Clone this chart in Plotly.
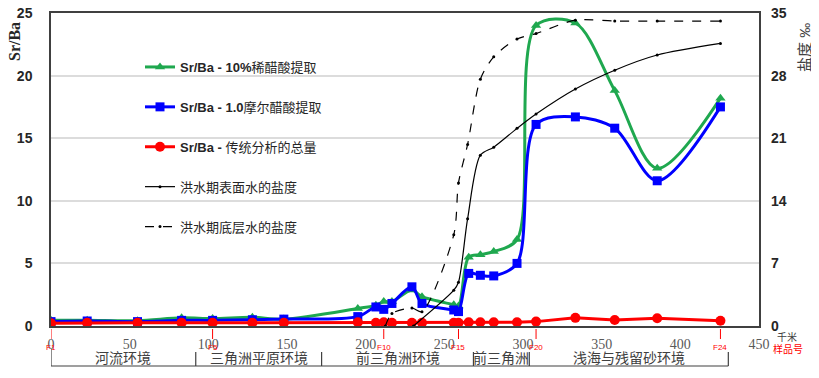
import plotly.graph_objects as go

# ---------------- data ----------------
km = [0, 23, 55, 83, 102.7, 128, 148, 195, 206.5, 211.5, 216.7, 229.4, 235.8,
      256, 259, 265.5, 272.9, 281.4, 296.2, 308.3, 333.3, 358.3, 385.3, 425.5]
srba_10pct = [0.45, 0.45, 0.42, 0.65, 0.6, 0.7, 0.55, 1.4, 1.65, 1.95, 1.95, 2.87, 2.34,
              1.7, 1.6, 5.5, 5.7, 5.95, 6.9, 24.0, 24.2, 18.8, 12.6, 18.2]
srba_1mol = [0.35, 0.4, 0.35, 0.45, 0.45, 0.5, 0.55, 0.75, 1.52, 1.33, 1.8, 3.13, 1.8,
             1.28, 1.15, 4.2, 4.05, 4.0, 5.0, 16.1, 16.7, 15.8, 11.6, 17.5]
srba_total = [0.22, 0.25, 0.25, 0.25, 0.25, 0.25, 0.25, 0.3, 0.25, 0.3, 0.25, 0.25, 0.25,
              0.25, 0.25, 0.3, 0.3, 0.3, 0.3, 0.35, 0.65, 0.48, 0.62, 0.42]

sal_surface_km = [230.4, 256, 259, 264.8, 272.9, 281.4, 296.2, 308.3, 333.3, 358.3, 385.3, 425.5]
sal_surface = [0, 4.0, 4.9, 12.0, 19.1, 20.0, 22.1, 23.7, 26.5, 28.6, 30.3, 31.6]
sal_bottom_km = [212.5, 216.7, 229.4, 235.8, 256, 259, 264.8, 272.9, 281.4, 296.2, 308.3,
                 333.3, 358.3, 385.3, 425.5]
sal_bottom = [0, 1.4, 2.0, 1.6, 10.2, 16.0, 20.3, 27.6, 30.1, 32.1, 32.7, 34.2, 34.1, 34.1, 34.1]

sample_labels = ["F1", "F5", "F10", "F15", "F20", "F24"]
sample_km = [0, 102.7, 211.5, 259, 308.3, 425.5]

env_labels = ["河流环境", "三角洲平原环境", "前三角洲环境", "前三角洲", "浅海与残留砂环境"]
env_bounds = [0, 92, 172, 268.5, 304, 430.5]

x_ticks = [0, 50, 100, 150, 200, 250, 300, 350, 400, 450]
y_ticks = [0, 5, 10, 15, 20, 25]
y2_ticks = [0, 7, 14, 21, 28, 35]

names = ["<b>Sr/Ba - 10%</b>稀醋酸提取", "<b>Sr/Ba - 1.0</b>摩尔醋酸提取",
         "<b>Sr/Ba - </b>传统分析的总量", "洪水期表面水的盐度", "洪水期底层水的盐度"]

GREEN = "#1fa84f"
BLUE = "#0000ff"
RED = "#ff0000"
CJK = "Liberation Sans, Noto Sans CJK SC"
SERIF = "Liberation Serif, Noto Sans CJK SC"

fig = go.Figure()
fig.add_trace(go.Scatter(x=km, y=srba_10pct, name=names[0], mode="lines+markers",
                         line=dict(color=GREEN, width=3, shape="spline", smoothing=0.9),
                         marker=dict(symbol="triangle-up", size=9, color=GREEN),
                         legendgroup="a"))
fig.add_trace(go.Scatter(x=km, y=srba_1mol, name=names[1], mode="lines+markers",
                         line=dict(color=BLUE, width=3, shape="spline", smoothing=0.9),
                         marker=dict(symbol="square", size=9, color=BLUE),
                         legendgroup="b"))
fig.add_trace(go.Scatter(x=km, y=srba_total, name=names[2], mode="lines+markers",
                         line=dict(color=RED, width=3),
                         marker=dict(symbol="circle", size=10, color=RED),
                         legendgroup="c"))
fig.add_trace(go.Scatter(x=sal_surface_km, y=sal_surface, name=names[3], mode="lines+markers",
                         line=dict(color="black", width=1.2, shape="spline", smoothing=0.8),
                         marker=dict(size=3, color="black"),
                         yaxis="y2", legendgroup="d"))
fig.add_trace(go.Scatter(x=sal_bottom_km, y=sal_bottom, name=names[4], mode="lines+markers",
                         line=dict(color="black", width=1.2, dash="dash", shape="spline", smoothing=0.8),
                         marker=dict(size=3, color="black"),
                         yaxis="y2", legendgroup="e"))

# target pixel geometry of the plot area in the reference
PL, PR, PT, PB = 51, 759, 13, 326
OFF = 8  # page body margin offset
W, H = 819, 378
ml, mt = PL - OFF, PT - OFF
mr = W - (PR - OFF)
mb = H - (PB - OFF)
plot_h = PB - PT
plot_w = PR - PL


def py(px):
    """reference pixel y -> paper y"""
    return (PB - px) / plot_h


def pxp(px):
    """reference pixel x -> paper x"""
    return (px - PL) / plot_w


shapes = []
annotations = []
# environment brackets
shapes.append(dict(type="line", xref="x", yref="paper", x0=env_bounds[0], x1=env_bounds[-1],
                   y0=py(366), y1=py(366), line=dict(color="#404040", width=1.2)))
for i, b in enumerate(env_bounds):
    y0 = py(349) if i == 0 else py(352)
    shapes.append(dict(type="line", xref="x", yref="paper", x0=b, x1=b, y0=y0, y1=py(366),
                       line=dict(color="#404040", width=1.2)))
for i, lab in enumerate(env_labels):
    annotations.append(dict(x=(env_bounds[i] + env_bounds[i + 1]) / 2, y=py(358), xref="x", yref="paper",
                            xanchor="center", yanchor="middle",
                            text=lab, showarrow=False, font=dict(family=SERIF, size=14, color="#404040")))
# sample ticks
for lab, k in zip(sample_labels, sample_km):
    shapes.append(dict(type="line", xref="x", yref="paper", x0=k, x1=k, y0=py(329), y1=py(339),
                       line=dict(color=RED, width=1)))
    annotations.append(dict(x=k, y=py(347), xref="x", yref="paper", text=lab, showarrow=False,
                            xanchor="center", yanchor="middle",
                            font=dict(family="Liberation Sans", size=8, color=RED)))
annotations.append(dict(x=pxp(787), y=py(337), xref="paper", yref="paper", text="千米",
                        xanchor="center", yanchor="middle",
                        showarrow=False, font=dict(family=SERIF, size=10, color="#404040")))
annotations.append(dict(x=pxp(788), y=py(349), xref="paper", yref="paper", text="样品号",
                        xanchor="center", yanchor="middle",
                        showarrow=False, font=dict(family=SERIF, size=10, color=RED)))
# axis titles
annotations.append(dict(x=pxp(15), y=py(42), xref="paper", yref="paper", text="<b>Sr/Ba</b>",
                        xanchor="center", yanchor="middle",
                        textangle=-90, showarrow=False,
                        font=dict(family="Liberation Serif", size=16, color="#262626")))
annotations.append(dict(x=pxp(805), y=py(47), xref="paper", yref="paper", text="盐度 ‰",
                        xanchor="center", yanchor="middle",
                        textangle=-90, showarrow=False,
                        font=dict(family=CJK, size=15, color="#404040")))

fig.update_layout(
    width=W, height=H, autosize=False,
    margin=dict(l=ml, r=mr, t=mt, b=mb, pad=0, autoexpand=False),
    paper_bgcolor="white", plot_bgcolor="white",
    showlegend=True,
    legend=dict(x=pxp(140), y=py(52), xanchor="left", yanchor="top",
                bgcolor="rgba(0,0,0,0)", traceorder="grouped", tracegroupgap=20,
                itemwidth=30, font=dict(family=CJK, size=13, color="#262626")),
    xaxis=dict(range=[0, 450], tickvals=x_ticks, showgrid=False, zeroline=False, automargin=False,
               showline=True, linecolor="#404040", linewidth=1.5, mirror=True,
               ticks="", ticklabelstandoff=4, ticklabeloverflow="allow",
               tickfont=dict(family="Liberation Serif", size=14, color="#595959")),
    yaxis=dict(range=[0, 25], tickvals=y_ticks, showgrid=True, gridcolor="#dcdcdc", gridwidth=1.5,
               zeroline=False, showline=True, linecolor="#404040", linewidth=1.5, mirror=True,
               ticks="", ticklabelstandoff=14, automargin=False, ticklabeloverflow="allow",
               tickfont=dict(family="Liberation Sans", size=14, color="#262626", weight="bold")),
    yaxis2=dict(range=[0, 35], tickvals=y2_ticks, overlaying="y", side="right", showgrid=False,
                zeroline=False, showline=False, ticks="", ticklabelstandoff=11, automargin=False,
                ticklabeloverflow="allow",
                tickfont=dict(family="Liberation Sans", size=14, color="#262626", weight="bold")),
    shapes=shapes, annotations=annotations,
)

fig.write_html("out.html")
